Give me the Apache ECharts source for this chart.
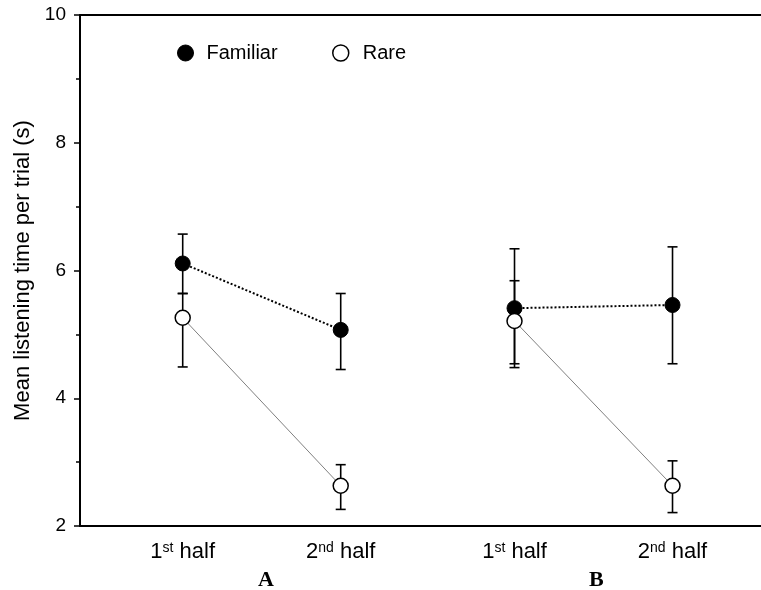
<!DOCTYPE html>
<html>
<head>
<meta charset="utf-8">
<script src="https://cdn.jsdelivr.net/npm/echarts@6/dist/echarts.min.js"></script>
<style>
html,body{margin:0;padding:0;background:#fff;}
#chart{width:761px;height:590px;}
</style>
</head>
<body>
<div id="chart"></div>
<script>
// Condition positions on the x axis (A: 1st/2nd half, B: 1st/2nd half)
const xPositions = [1, 2, 3.1, 4.1];
const xLabels = ['1{sup|st} half', '2{sup|nd} half', '1{sup|st} half', '2{sup|nd} half'];
const panelLabels = ['A', 'B'];
const yTicks = [2, 4, 6, 8, 10];

// Familiar
const familiarMean  = [6.11, 5.07, 5.41, 5.46];
const familiarUpper = [6.57, 5.64, 6.34, 6.37];
const familiarLower = [5.64, 4.45, 4.48, 4.54];
// Rare
const rareMean  = [5.26, 2.63, 5.21, 2.63];
const rareUpper = [5.64, 2.96, 5.84, 3.02];
const rareLower = [4.49, 2.26, 4.54, 2.21];

const chart = echarts.init(document.getElementById('chart'), null, {renderer: 'canvas'});

function pts(vals, idx) { return idx.map(i => [xPositions[i], vals[i]]); }
function errData(lo, hi) { return xPositions.map((x, i) => [x, lo[i], hi[i]]); }

function errRender(params, api) {
  const x = api.value(0);
  const lo = api.coord([x, api.value(1)]);
  const hi = api.coord([x, api.value(2)]);
  const hw = 5;
  const st = {stroke: '#000', lineWidth: 1.6};
  return {
    type: 'group',
    children: [
      {type: 'line', shape: {x1: hi[0], y1: hi[1], x2: lo[0], y2: lo[1]}, style: st},
      {type: 'line', shape: {x1: hi[0] - hw, y1: hi[1], x2: hi[0] + hw, y2: hi[1]}, style: st},
      {type: 'line', shape: {x1: lo[0] - hw, y1: lo[1], x2: lo[0] + hw, y2: lo[1]}, style: st}
    ]
  };
}

const famStyle = {color: '#000', borderColor: '#000', borderWidth: 1};
const rareStyle = {color: '#fff', borderColor: '#000', borderWidth: 1.5};
const famLine = {color: '#000', width: 2, type: 'dotted'};
const rareLine = {color: '#808080', width: 1, type: 'solid'};

const panels = [[0, 1], [2, 3]];
const series = [
  {type: 'custom', name: 'errF', renderItem: errRender, data: errData(familiarLower, familiarUpper), z: 1, silent: true},
  {type: 'custom', name: 'errR', renderItem: errRender, data: errData(rareLower, rareUpper), z: 1, silent: true}
];
panels.forEach(p => {
  series.push({type: 'line', name: 'Familiar', data: pts(familiarMean, p), symbol: 'circle', symbolSize: 15,
    itemStyle: famStyle, lineStyle: famLine, z: 3, animation: false});
});
panels.forEach(p => {
  series.push({type: 'line', name: 'Rare', data: pts(rareMean, p), symbol: 'circle', symbolSize: 15,
    itemStyle: rareStyle, lineStyle: rareLine, z: 4, animation: false});
});

const option = {
  animation: false,
  backgroundColor: '#fff',
  grid: {left: 80, right: 0, top: 15, bottom: 64},
  legend: [
    {data: [{name: 'Familiar', itemStyle: famStyle}], left: 172, top: 38, icon: 'circle', itemWidth: 16, itemHeight: 16,
     textStyle: {fontFamily: 'Liberation Sans, Arial, sans-serif', fontSize: 20, color: '#000', padding: [0, 0, 0, 8]}, selectedMode: false},
    {data: [{name: 'Rare', itemStyle: rareStyle}], left: 327, top: 38, icon: 'circle', itemWidth: 16, itemHeight: 16,
     textStyle: {fontFamily: 'Liberation Sans, Arial, sans-serif', fontSize: 20, color: '#000', padding: [0, 0, 0, 9]}, selectedMode: false}
  ],
  xAxis: [
    {type: 'value', min: 0.35, max: 4.66, position: 'bottom',
     axisLine: {show: true, onZero: false, lineStyle: {color: '#000', width: 2}},
     axisTick: {show: false}, splitLine: {show: false},
     axisLabel: {
       customValues: xPositions, margin: 15, color: '#000',
       fontFamily: 'Liberation Sans, Arial, sans-serif', fontSize: 22,
       formatter: function (v) { const i = xPositions.indexOf(v); return i >= 0 ? xLabels[i] : ''; },
       rich: {sup: {fontSize: 14, verticalAlign: 'top', lineHeight: 14, fontFamily: 'Liberation Sans, Arial, sans-serif', color: '#000'}}
     }},
    {type: 'value', min: 0.35, max: 4.66, position: 'top',
     axisLine: {show: true, onZero: false, lineStyle: {color: '#000', width: 2}},
     axisTick: {show: false}, axisLabel: {show: false}, splitLine: {show: false}}
  ],
  yAxis: {
    type: 'value', min: yTicks[0], max: yTicks[yTicks.length - 1], interval: 2,
    name: 'Mean listening time per trial (s)', nameLocation: 'middle', nameGap: 45, nameRotate: 90,
    nameTextStyle: {fontFamily: 'Liberation Sans, Arial, sans-serif', fontSize: 22, color: '#000'},
    axisLine: {show: true, onZero: false, lineStyle: {color: '#000', width: 2}},
    axisTick: {show: true, length: 6, lineStyle: {color: '#000', width: 1.5}},
    minorTick: {show: true, splitNumber: 2, length: 4, lineStyle: {color: '#000', width: 1.5}},
    splitLine: {show: false},
    axisLabel: {margin: 14, color: '#000', fontFamily: 'Liberation Sans, Arial, sans-serif', fontSize: 19}
  },
  graphic: [
    {type: 'text', left: 258, top: 569, style: {text: panelLabels[0], font: 'bold 22px "Liberation Serif", "Times New Roman", serif', fill: '#000'}},
    {type: 'text', left: 589, top: 569, style: {text: panelLabels[1], font: 'bold 22px "Liberation Serif", "Times New Roman", serif', fill: '#000'}}
  ],
  series: series
};
chart.setOption(option);
</script>
</body>
</html>
